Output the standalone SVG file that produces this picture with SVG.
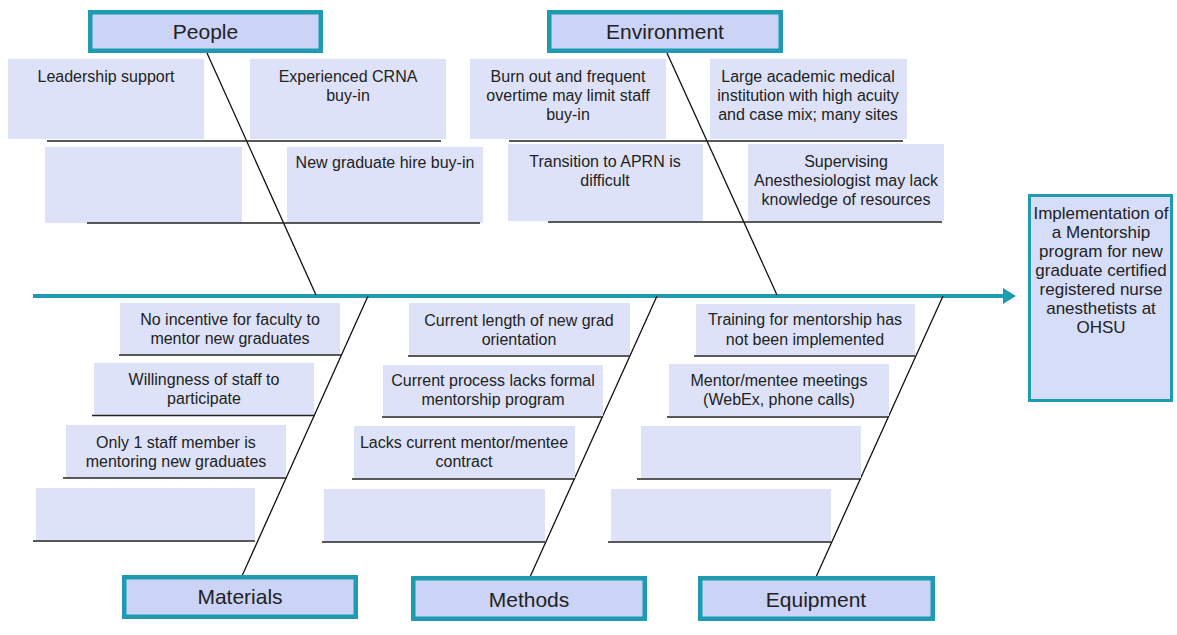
<svg xmlns="http://www.w3.org/2000/svg" width="1177" height="635" viewBox="0 0 1177 635">
<style>
.bg{fill:#ffffff}
.box{fill:#dde2f8}
.hdr{fill:#cbd3f6;stroke:#1e9bb0;stroke-width:4.5}
.eff{fill:#d6ddf8;stroke:#1e9bb0;stroke-width:3}
.ln{stroke:#222;stroke-width:1.5;fill:none}
.bone{stroke:#111;stroke-width:1.3;fill:none}
.spine{stroke:#1e9bb0;stroke-width:4;fill:none}
text{font-family:"Liberation Sans",Arial,sans-serif;fill:#222;text-anchor:middle}
.t{font-size:16px}
.h{font-size:21px}
.e{font-size:17px}
</style>
<rect class="bg" x="0" y="0" width="1177" height="635"/>

<g id="connectors">
  <line class="spine" x1="33" y1="296" x2="1004" y2="296"/>
  <polygon points="1003,288 1016,296 1003,304" fill="#1e9bb0"/>
  <line class="bone" x1="207" y1="53" x2="316" y2="295"/>
  <line class="bone" x1="667" y1="53" x2="777" y2="295"/>
  <line class="bone" x1="368" y1="296" x2="242" y2="576"/>
  <line class="bone" x1="657" y1="296" x2="530" y2="577"/>
  <line class="bone" x1="943" y1="296" x2="816" y2="577"/>
</g>

<g id="people">
  <rect class="hdr" x="90.25" y="12.25" width="230.5" height="38.5"/>
  <text class="h" x="205.5" y="39">People</text>
</g>
<g id="people-causes">
  <rect class="box" x="8" y="59" width="196" height="80"/>
  <text class="t" x="106" y="82">Leadership support</text>
  <rect class="box" x="250" y="59" width="196" height="80"/>
  <text class="t" x="348" y="82">Experienced CRNA</text>
  <text class="t" x="348" y="101">buy-in</text>
  <line class="ln" x1="47" y1="141" x2="441" y2="141"/>
  <rect class="box" x="45" y="147" width="197" height="76"/>
  <rect class="box" x="287" y="147" width="196" height="76"/>
  <text class="t" x="385" y="168">New graduate hire buy-in</text>
  <line class="ln" x1="87" y1="223" x2="480" y2="223"/>
</g>

<g id="environment">
  <rect class="hdr" x="549.25" y="12.25" width="231.5" height="38.5"/>
  <text class="h" x="665" y="39">Environment</text>
</g>
<g id="environment-causes">
  <rect class="box" x="470" y="59" width="196" height="80"/>
  <text class="t" x="568" y="82">Burn out and frequent</text>
  <text class="t" x="568" y="101">overtime may limit staff</text>
  <text class="t" x="568" y="120">buy-in</text>
  <rect class="box" x="710" y="59" width="197" height="80"/>
  <text class="t" x="808" y="82">Large academic medical</text>
  <text class="t" x="808" y="101">institution with high acuity</text>
  <text class="t" x="808" y="120">and case mix; many sites</text>
  <line class="ln" x1="509" y1="141" x2="903" y2="141"/>
  <rect class="box" x="508" y="144" width="195" height="77"/>
  <text class="t" x="605" y="167">Transition to APRN is</text>
  <text class="t" x="605" y="186">difficult</text>
  <rect class="box" x="748" y="144" width="196" height="77"/>
  <text class="t" x="846" y="167">Supervising</text>
  <text class="t" x="846" y="186">Anesthesiologist may lack</text>
  <text class="t" x="846" y="205">knowledge of resources</text>
  <line class="ln" x1="548" y1="222" x2="942" y2="222"/>
</g>

<g id="effect">
  <rect class="eff" x="1029.5" y="195.5" width="142" height="205"/>
  <text class="e" x="1101" y="219">Implementation of</text>
  <text class="e" x="1101" y="238">a Mentorship</text>
  <text class="e" x="1101" y="257">program for new</text>
  <text class="e" x="1101" y="276">graduate certified</text>
  <text class="e" x="1101" y="295">registered nurse</text>
  <text class="e" x="1101" y="314">anesthetists at</text>
  <text class="e" x="1101" y="333">OHSU</text>
</g>

<g id="materials-causes">
  <rect class="box" x="120" y="303" width="220" height="51"/>
  <text class="t" x="230" y="325">No incentive for faculty to</text>
  <text class="t" x="230" y="344">mentor new graduates</text>
  <line class="ln" x1="119" y1="355" x2="341" y2="355"/>
  <rect class="box" x="94" y="363" width="220" height="52"/>
  <text class="t" x="204" y="385">Willingness of staff to</text>
  <text class="t" x="204" y="404">participate</text>
  <line class="ln" x1="92" y1="415.5" x2="315" y2="415.5"/>
  <rect class="box" x="66" y="425" width="220" height="52"/>
  <text class="t" x="176" y="448">Only 1 staff member is</text>
  <text class="t" x="176" y="467">mentoring new graduates</text>
  <line class="ln" x1="63" y1="478" x2="286" y2="478"/>
  <rect class="box" x="36" y="488" width="219" height="52"/>
  <line class="ln" x1="33" y1="541" x2="255" y2="541"/>
</g>
<g id="materials">
  <rect class="hdr" x="124.25" y="577.25" width="231.5" height="39.5"/>
  <text class="h" x="240" y="604">Materials</text>
</g>

<g id="methods-causes">
  <rect class="box" x="409" y="303" width="221" height="52"/>
  <text class="t" x="519" y="326">Current length of new grad</text>
  <text class="t" x="519" y="345">orientation</text>
  <line class="ln" x1="408" y1="356" x2="630" y2="356"/>
  <rect class="box" x="383" y="365" width="220" height="51"/>
  <text class="t" x="493" y="386">Current process lacks formal</text>
  <text class="t" x="493" y="405">mentorship program</text>
  <line class="ln" x1="382" y1="417" x2="603" y2="417"/>
  <rect class="box" x="354" y="426" width="221" height="52"/>
  <text class="t" x="464" y="448">Lacks current mentor/mentee</text>
  <text class="t" x="464" y="467">contract</text>
  <line class="ln" x1="352" y1="479" x2="575" y2="479"/>
  <rect class="box" x="324" y="489" width="221" height="53"/>
  <line class="ln" x1="322" y1="542" x2="545" y2="542"/>
</g>
<g id="methods">
  <rect class="hdr" x="413.25" y="578.25" width="231.5" height="40.5"/>
  <text class="h" x="529" y="607">Methods</text>
</g>

<g id="equipment-causes">
  <rect class="box" x="696" y="304" width="219" height="51"/>
  <text class="t" x="805" y="325">Training for mentorship has</text>
  <text class="t" x="805" y="345">not been implemented</text>
  <line class="ln" x1="694" y1="356" x2="915" y2="356"/>
  <rect class="box" x="669" y="364" width="220" height="52"/>
  <text class="t" x="779" y="386">Mentor/mentee meetings</text>
  <text class="t" x="779" y="405">(WebEx, phone calls)</text>
  <line class="ln" x1="667" y1="417" x2="889" y2="417"/>
  <rect class="box" x="641" y="426" width="220" height="52"/>
  <line class="ln" x1="637" y1="479" x2="861" y2="479"/>
  <rect class="box" x="611" y="489" width="220" height="52"/>
  <line class="ln" x1="608" y1="542" x2="831" y2="542"/>
</g>
<g id="equipment">
  <rect class="hdr" x="700.25" y="578.25" width="232.5" height="40.5"/>
  <text class="h" x="816" y="607">Equipment</text>
</g>
</svg>
